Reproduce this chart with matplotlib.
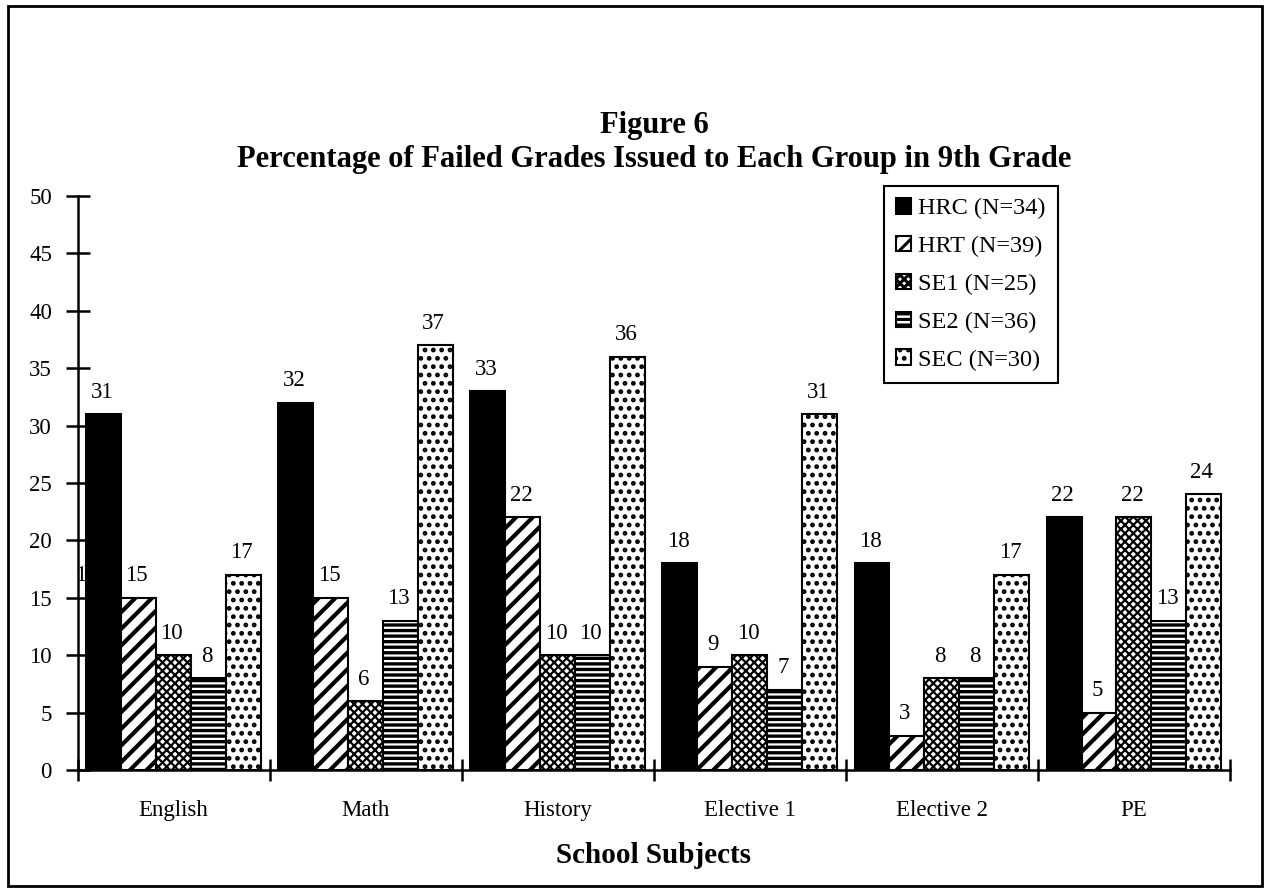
import numpy as np
import matplotlib
matplotlib.use("Agg")
import matplotlib.pyplot as plt
from matplotlib.patches import Rectangle

plt.rcParams['font.family'] = ['Liberation Serif', 'DejaVu Serif']

subjects = ['English', 'Math', 'History', 'Elective 1', 'Elective 2', 'PE']
groups = ['HRC (N=34)', 'HRT (N=39)', 'SE1 (N=25)', 'SE2 (N=36)', 'SEC (N=30)']
hrc = [31, 32, 33, 18, 18, 22]
hrt = [15, 15, 22, 9, 3, 5]
se1 = [10, 6, 10, 10, 8, 22]
se2 = [8, 13, 10, 7, 8, 13]
sec = [17, 37, 36, 31, 17, 24]
series = [hrc, hrt, se1, se2, sec]
yticks = list(range(0, 51, 5))

# stray label partly hidden behind the first black bar in the original
hidden_label = ('15', 0, 15)

hatches = [None, '//', 'xxxx', '---', '..']
hatch_lw = [1.0, 3.0, 1.6, 2.4, 2.2]

fig = plt.figure(figsize=(12.65, 8.92), dpi=100)
ax = fig.add_axes([0.0614, 0.1368, 0.9109, 0.6435])

x = np.arange(len(subjects))
w = 0.182
for j, vals in enumerate(series):
    plt.rcParams['hatch.linewidth'] = hatch_lw[j]
    fc = 'black' if j == 0 else 'white'
    bars = ax.bar(x + (j - 2) * w, vals, w, color=fc, edgecolor='black',
                  linewidth=1.5, hatch=hatches[j], label=groups[j], zorder=3)
    for b in bars:
        if hasattr(b, 'set_hatch_linewidth'):
            b.set_hatch_linewidth(hatch_lw[j])
    for xi, v in zip(x + (j - 2) * w, vals):
        ax.text(xi - 0.01, v + 1.0, str(v), ha='center', va='bottom', fontsize=16.5, zorder=4)

t, gi, v = hidden_label
ax.text(gi - 0.455, v + 1.0, t, ha='center', va='bottom', fontsize=16.5, zorder=2)

ax.set_xlim(-0.5, len(subjects) - 0.5)
ax.set_ylim(0, 50)
for s in ['top', 'right']:
    ax.spines[s].set_visible(False)
for s in ['left', 'bottom']:
    ax.spines[s].set_linewidth(1.8)
ax.set_yticks(yticks)
ax.set_yticklabels([str(t) for t in yticks], fontsize=16.5)
ax.tick_params(axis='y', direction='inout', length=17, width=1.8, pad=10)
ax.set_xticks(np.arange(-0.5, len(subjects), 1.0))
ax.set_xticklabels([])
ax.tick_params(axis='x', direction='inout', length=16, width=1.8)
for xi, s in zip(x, subjects):
    ax.text(xi, -3.5, s, ha='center', va='center', fontsize=16.5)
ax.set_xlabel('School Subjects', fontsize=21, fontweight='bold', labelpad=40)

fig.text(0.517, 1 - 125 / 892, 'Figure 6', ha='center', va='center',
         fontsize=22, fontweight='bold')
fig.text(0.517, 1 - 160 / 892, 'Percentage of Failed Grades Issued to Each Group in 9th Grade',
         ha='center', va='center', fontsize=22, fontweight='bold')

leg = ax.legend(loc='upper left', bbox_to_anchor=(884 / 1265, 1 - 186 / 892),
                bbox_transform=fig.transFigure, fontsize=17.5, frameon=True,
                fancybox=False, framealpha=1, edgecolor='black',
                handlelength=0.6, handleheight=0.6, handletextpad=0.3,
                labelspacing=0.68, borderpad=0.5, borderaxespad=0)
leg.get_frame().set_linewidth(1.5)

fig.patches.append(Rectangle((8 / 1265, 6 / 892), 1254 / 1265, 880 / 892,
                             transform=fig.transFigure, fill=False,
                             edgecolor='black', linewidth=2))

plt.savefig('out.png', dpi=100)
